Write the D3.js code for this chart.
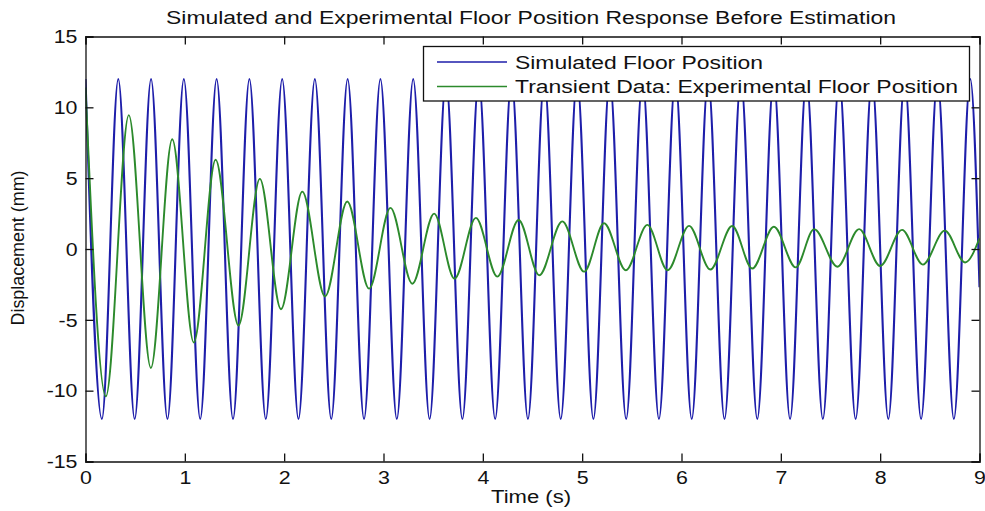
<!DOCTYPE html>
<html>
<head>
<meta charset="utf-8">
<script src="https://cdn.jsdelivr.net/npm/d3@7/dist/d3.min.js"></script>
<style>
html, body { margin: 0; padding: 0; background: #fff; }
svg { display: block; }
text { font-family: "Liberation Sans", Arial, Helvetica, sans-serif; fill: #111; }
</style>
</head>
<body>
<svg id="chart" width="985" height="511"></svg>
<script>
// ---- Data ----
const title = "Simulated and Experimental Floor Position Response Before Estimation";
const xLabel = "Time (s)";
const yLabel = "Displacement (mm)";
const seriesNames = ["Simulated Floor Position", "Transient Data: Experimental Floor Position"];
const xTicks = [0, 1, 2, 3, 4, 5, 6, 7, 8, 9];
const yTicks = [-15, -10, -5, 0, 5, 10, 15];

// Simulated floor position: turning points (peaks / troughs)
const simTime = [0.000, 0.165, 0.330, 0.495, 0.660, 0.825, 0.990, 1.155, 1.320, 1.485,
  1.650, 1.815, 1.980, 2.144, 2.309, 2.474, 2.639, 2.804, 2.969, 3.134,
  3.299, 3.464, 3.629, 3.794, 3.959, 4.124, 4.289, 4.454, 4.619, 4.784,
  4.949, 5.113, 5.278, 5.443, 5.608, 5.773, 5.938, 6.103, 6.268, 6.433,
  6.598, 6.763, 6.928, 7.093, 7.258, 7.423, 7.588, 7.753, 7.918, 8.082,
  8.247, 8.412, 8.577, 8.742, 8.907, 9.000];
const simDisp = [12, -12, 12, -12, 12, -12, 12, -12, 12, -12,
  12, -12, 12, -12, 12, -12, 12, -12, 12, -12,
  12, -12, 12, -12, 12, -12, 12, -12, 12, -12,
  12, -12, 12, -12, 12, -12, 12, -12, 12, -12,
  12, -12, 12, -12, 12, -12, 12, -12, 12, -12,
  12, -12, 12, -12, 12, -2.7];

// Experimental floor position: turning points
const expTime = [0.000, 0.205, 0.436, 0.658, 0.873, 1.090, 1.310, 1.540, 1.755, 1.968,
  2.182, 2.412, 2.635, 2.855, 3.070, 3.290, 3.510, 3.715, 3.930, 4.146,
  4.360, 4.568, 4.800, 5.020, 5.220, 5.440, 5.656, 5.860, 6.076, 6.290,
  6.510, 6.712, 6.930, 7.150, 7.335, 7.570, 7.788, 8.000, 8.220, 8.430,
  8.650, 8.855, 9.000];
const expDisp = [11.4, -10.4, 9.45, -8.4, 7.75, -6.6, 6.3, -5.4, 4.95, -4.25,
  4.05, -3.35, 3.35, -2.8, 2.9, -2.45, 2.5, -2.1, 2.2, -1.95,
  2.05, -1.85, 1.95, -1.6, 1.82, -1.5, 1.7, -1.5, 1.63, -1.45,
  1.62, -1.38, 1.57, -1.3, 1.4, -1.25, 1.4, -1.2, 1.35, -1.1,
  1.3, -0.95, 0.76];

const colors = ["#1e1eaa", "#2c8a2c"];

// ---- Layout ----
const svg = d3.select("#chart");
const L = 85.5, R = 979.5, T = 36.5, B = 461.5;
const x = d3.scaleLinear().domain([0, 9]).range([L, R]);
const y = d3.scaleLinear().domain([-15, 15]).range([B, T]);
const FS = 17.5;
const STRETCH = 1.22;

function stretch(sel, target) {
  sel.each(function () {
    const w = this.getComputedTextLength();
    d3.select(this)
      .attr("textLength", target ? target : w * STRETCH)
      .attr("lengthAdjust", "spacingAndGlyphs");
  });
}

svg.append("rect").attr("width", 985).attr("height", 511).attr("fill", "#fff");

svg.append("clipPath").attr("id", "clip")
  .append("rect").attr("x", L).attr("y", T).attr("width", R - L).attr("height", B - T);

const lines = svg.append("g").attr("clip-path", "url(#clip)");
const simData = simTime.map((t, i) => [t, simDisp[i]]);
const expData = expTime.map((t, i) => [t, expDisp[i]]);
const lineGen = d3.line().x(d => x(d[0])).y(d => y(d[1])).curve(d3.curveMonotoneX);

lines.append("path").datum(simData).attr("d", lineGen)
  .attr("fill", "none").attr("stroke", colors[0]).attr("stroke-width", 2.1);
lines.append("path").datum(expData).attr("d", lineGen)
  .attr("fill", "none").attr("stroke", colors[1]).attr("stroke-width", 1.9);

// Axes (box with inward ticks)
const tickLen = 8;
const fmt = d => d3.format("d")(d).replace("\u2212", "-");
const axB = svg.append("g").attr("transform", `translate(0,${B})`)
  .call(d3.axisBottom(x).tickValues(xTicks).tickSize(-tickLen).tickPadding(0).tickFormat(fmt));
const axT = svg.append("g").attr("transform", `translate(0,${T})`)
  .call(d3.axisTop(x).tickValues(xTicks).tickSize(-tickLen).tickFormat(""));
const axL = svg.append("g").attr("transform", `translate(${L},0)`)
  .call(d3.axisLeft(y).tickValues(yTicks).tickSize(-tickLen).tickFormat(fmt));
const axR = svg.append("g").attr("transform", `translate(${R},0)`)
  .call(d3.axisRight(y).tickValues(yTicks).tickSize(-tickLen).tickFormat(""));

[axB, axT, axL, axR].forEach(a => {
  a.select(".domain").attr("stroke", "#111").attr("stroke-width", 1.3);
  a.selectAll(".tick line").attr("stroke", "#111").attr("stroke-width", 1.3);
  a.selectAll("text").attr("font-size", FS).attr("fill", "#111")
    .style("font-family", '"Liberation Sans", Arial, sans-serif');
});
axB.selectAll(".tick text").attr("y", 0).attr("dy", 0).attr("transform", "translate(0,22)");
axL.selectAll(".tick text").attr("x", -8).attr("dy", "0.36em");
stretch(axB.selectAll(".tick text"));
stretch(axL.selectAll(".tick text"));

// Title
svg.append("text").attr("x", 531).attr("y", 24).attr("text-anchor", "middle")
  .attr("font-size", FS).text(title).call(stretch, 730);
// X label
svg.append("text").attr("x", 531).attr("y", 503).attr("text-anchor", "middle")
  .attr("font-size", FS).text(xLabel).call(stretch, 80);
// Y label
svg.append("text").attr("transform", "translate(24,248) rotate(-90)").attr("text-anchor", "middle")
  .attr("font-size", FS).text(yLabel).call(stretch, 155);

// Legend
const lg = svg.append("g");
lg.append("rect").attr("x", 423.5).attr("y", 46.5).attr("width", 546).attr("height", 54.5)
  .attr("fill", "#fff").attr("stroke", "#111").attr("stroke-width", 1.3);
const rowsY = [62, 86.5];
const textW = [248, 443];
seriesNames.forEach((name, i) => {
  lg.append("line").attr("x1", 437).attr("x2", 507).attr("y1", rowsY[i]).attr("y2", rowsY[i])
    .attr("stroke", colors[i]).attr("stroke-width", 1.5);
  lg.append("text").attr("x", 515).attr("y", rowsY[i] + 6.5).attr("font-size", FS)
    .text(name).call(stretch, textW[i]);
});
</script>
</body>
</html>
